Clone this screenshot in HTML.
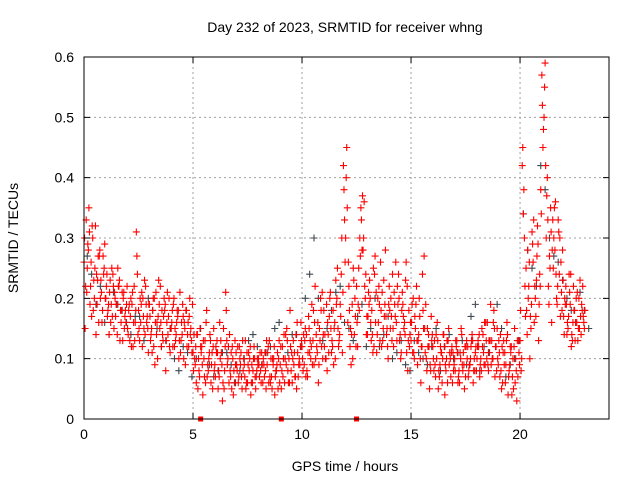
<!DOCTYPE html>
<html><head><meta charset="utf-8"><style>
html,body{margin:0;padding:0;background:#fff;}
svg{display:block;font-family:"Liberation Sans",sans-serif;}
</style></head><body>
<svg id="chart" width="640" height="480">
<text x="345" y="32" text-anchor="middle" font-size="14">Day 232 of 2023, SRMTID for receiver whng</text>
<text x="345" y="471" text-anchor="middle" font-size="14">GPS time / hours</text>
<text transform="translate(18,238) rotate(-90)" text-anchor="middle" font-size="14">SRMTID / TECUs</text>
<g id="grid"></g><g id="marks"></g><g id="axes"></g>
</svg>
<script>
const xTicks=[0,5,10,15,20];
const yTicks=[0,0.1,0.2,0.3,0.4,0.5,0.6];
const yTickLabels=["0","0.1","0.2","0.3","0.4","0.5","0.6"];
const serStartA=0.0, serStartB=0.05, serStartC=0.025, serStartD=0.075, serStep=0.1;
const serA=[.26,.33,.28,.22,.30,.25,.19,.27,.21,.24,.20,.18,.23,.17,.21,.19,.22,.16,.20,.18,.15,.13,.19,.22,.31,.18,.16,.20,.14,.17,.19,.15,.12,.21,.17,.22,.14,.18,.16,.20,.15,.19,.13,.17,.21,.14,.16,.18,.12,.15,.11,.09,.14,.07,.12,.10,.16,.08,.13,.05,.09,.13,.07,.11,.15,.21,.10,.08,.12,.06,.09,.07,.11,.08,.13,.06,.10,.09,.12,.07,.10,.08,.06,.11,.09,.13,.07,.10,.08,.05,.09,.12,.06,.15,.10,.08,.13,.07,.11,.09,.12,.09,.14,.17,.10,.13,.22,.11,.15,.12,.18,.10,.14,.21,.12,.16,.20,.13,.24,.42,.30,.16,.12,.19,.14,.22,.25,.35,.28,.20,.14,.23,.18,.12,.21,.16,.26,.13,.19,.15,.22,.17,.12,.26,.19,.14,.21,.16,.11,.18,.13,.20,.15,.09,.17,.12,.27,.10,.14,.08,.12,.09,.16,.07,.11,.14,.08,.13,.10,.06,.10,.13,.08,.15,.11,.07,.12,.09,.14,.10,.08,.12,.10,.14,.09,.16,.11,.13,.18,.12,.09,.14,.06,.11,.16,.08,.12,.05,.10,.07,.13,.42,.30,.18,.22,.15,.26,.20,.32,.24,.57,.50,.30,.22,.35,.33,.28,.19,.24,.21,.17,.22,.15,.19,.13,.18,.16,.20,.14,.17];
const serB=[.15,.25,.31,.17,.23,.14,.27,.20,.18,.29,.24,.14,.19,.22,.17,.25,.13,.21,.15,.19,.18,.20,.12,.16,.24,.13,.21,.15,.19,.11,.13,.18,.09,.16,.19,.12,.17,.08,.14,.11,.18,.12,.16,.10,.13,.17,.09,.14,.20,.11,.14,.06,.10,.12,.04,.13,.07,.11,.09,.15,.12,.05,.10,.03,.08,.13,.06,.11,.04,.09,.12,.10,.05,.09,.06,.11,.04,.08,.07,.10,.07,.11,.09,.05,.12,.06,.10,.04,.09,.13,.05,.10,.14,.08,.18,.06,.11,.05,.09,.16,.08,.15,.07,.11,.19,.09,.14,.06,.20,.10,.14,.08,.17,.11,.09,.23,.15,.19,.11,.33,.45,.22,.09,.25,.17,.12,.30,.28,.36,.14,.21,.16,.11,.27,.14,.19,.12,.23,.17,.10,.15,.24,.19,.13,.20,.11,.17,.23,.08,.14,.19,.10,.22,.14,.06,.18,.11,.15,.05,.13,.08,.14,.05,.12,.10,.04,.13,.09,.11,.08,.13,.06,.11,.09,.05,.13,.08,.12,.06,.11,.12,.07,.15,.09,.13,.08,.19,.10,.07,.15,.11,.05,.13,.09,.04,.12,.07,.15,.03,.11,.08,.34,.17,.28,.10,.31,.16,.23,.13,.38,.45,.59,.40,.27,.16,.30,.24,.33,.17,.28,.20,.14,.24,.12,.22,.16,.13,.23,.18,.15];
const serC=[.30,.21,.35,.26,.18,.32,.23,.28,.16,.25,.22,.19,.16,.24,.20,.14,.23,.18,.21,.16,.14,.17,.21,.13,.27,.15,.19,.17,.22,.15,.17,.11,.20,.14,.23,.16,.13,.19,.21,.12,.16,.20,.14,.18,.11,.19,.15,.12,.17,.13,.08,.12,.05,.15,.09,.07,.18,.10,.06,.12,.07,.11,.16,.09,.05,.18,.12,.07,.10,.13,.08,.12,.07,.10,.05,.09,.12,.06,.10,.08,.09,.06,.10,.08,.11,.07,.05,.12,.08,.10,.12,.07,.10,.13,.06,.11,.09,.14,.07,.12,.10,.13,.08,.15,.12,.18,.10,.16,.13,.21,.12,.19,.11,.15,.18,.10,.25,.14,.30,.38,.40,.26,.15,.10,.20,.16,.18,.33,.30,.24,.17,.20,.14,.24,.11,.22,.18,.15,.28,.12,.18,.13,.21,.16,.24,.10,.19,.14,.22,.12,.16,.11,.19,.13,.10,.24,.15,.08,.12,.17,.10,.07,.13,.09,.06,.12,.10,.15,.07,.11,.08,.11,.06,.14,.09,.12,.07,.10,.13,.08,.10,.14,.08,.11,.16,.09,.13,.10,.15,.08,.13,.08,.11,.06,.14,.09,.04,.12,.08,.13,.18,.45,.22,.14,.26,.19,.33,.17,.29,.22,.52,.55,.37,.19,.31,.25,.36,.22,.30,.18,.14,.19,.17,.24,.16,.13,.21,.15,.19,.16];
const serD=[.22,.29,.19,.32,.20,.24,.16,.23,.27,.20,.17,.21,.25,.15,.19,.22,.18,.13,.17,.22,.19,.12,.16,.18,.14,.20,.12,.23,.16,.19,.14,.20,.16,.10,.15,.18,.20,.13,.17,.15,.12,.15,.18,.13,.16,.10,.18,.16,.14,.19,.10,.14,.08,.11,.13,.06,.09,.14,.11,.08,.11,.08,.13,.06,.12,.09,.14,.05,.08,.11,.06,.09,.13,.07,.11,.08,.06,.10,.05,.09,.11,.09,.07,.13,.06,.10,.09,.07,.11,.06,.08,.14,.09,.06,.12,.10,.07,.16,.10,.13,.14,.07,.11,.13,.09,.16,.12,.09,.18,.14,.10,.16,.20,.13,.15,.19,.12,.17,.21,.26,.35,.18,.14,.23,.12,.19,.27,.37,.22,.17,.19,.13,.25,.16,.20,.13,.21,.17,.14,.19,.20,.15,.17,.22,.13,.18,.15,.26,.13,.16,.11,.17,.13,.20,.12,.15,.19,.12,.09,.14,.13,.10,.08,.11,.14,.09,.06,.11,.12,.09,.12,.07,.10,.08,.12,.10,.09,.13,.08,.12,.13,.09,.12,.16,.10,.13,.09,.16,.12,.10,.07,.12,.09,.13,.07,.11,.10,.06,.13,.09,.10,.38,.25,.20,.17,.29,.22,.27,.19,.34,.48,.42,.33,.25,.28,.35,.20,.31,.26,.23,.19,.16,.21,.14,.18,.20,.15,.17,.22,.18];
const serGStart=0.15, serG2Start=0.35, serGStep=0.4;
const serG=[.27,.19,.16,.21,.18,.14,.17,.20,.15,.13,.10,.12,.07,.15,.09,.08,.11,.06,.10,.14,.09,.12,.16,.11,.14,.20,.30,.13,.18,.22,.15,.17,.12,.20,.14,.10,.13,.08,.11,.09,.15,.12,.10,.13,.17,.08,.11,.19,.07,.10,.34,.25,.42,.30,.26,.20,.16,.18];
const serG2=[.24,.22,.14,.19,.16,.17,.13,.18,.12,.15,.08,.11,.10,.13,.07,.11,.09,.08,.13,.12,.11,.15,.10,.14,.12,.24,.20,.15,.21,.16,.13,.19,.15,.12,.17,.11,.09,.13,.10,.12,.08,.14,.11,.09,.19,.12,.10,.15,.09,.13,.28,.22,.38,.27,.23,.18,.21,.15];
const gapTimes=[5.35,9.05,12.5];

const X0=84,X1=609,Y0=419,Y1=57,XMAX=24.08,YMAX=0.6;
const sx=t=>X0+(X1-X0)*t/XMAX;
const sy=v=>Y0-(Y0-Y1)*v/YMAX;
const NS="http://www.w3.org/2000/svg";
function mk(tag,attrs,parent){const e=document.createElementNS(NS,tag);for(const k in attrs)e.setAttribute(k,attrs[k]);parent.appendChild(e);return e;}
const grid=document.getElementById('grid'),marks=document.getElementById('marks'),axes=document.getElementById('axes');
xTicks.forEach(t=>{
  if(t>0){const g=mk('line',{x1:sx(t),x2:sx(t),y1:Y0,y2:Y1,stroke:'#a0a0a0','stroke-dasharray':'2,3'},grid);
  
  }
  const tk=mk('path',{d:`M${sx(t)},${Y0}v-6M${sx(t)},${Y1}v6`,stroke:'#000'},axes);
  
  
  const l=mk('text',{x:sx(t),y:Y0+20,'text-anchor':'middle','font-size':14},axes);l.textContent=t;
  
  
});
yTicks.forEach((v,i)=>{
  if(v>0&&v<YMAX){const g=mk('line',{x1:X0,x2:X1,y1:sy(v),y2:sy(v),stroke:'#a0a0a0','stroke-dasharray':'2,3'},grid);
  
  }
  const tk=mk('path',{d:`M${X0},${sy(v)}h6M${X1},${sy(v)}h-6`,stroke:'#000'},axes);
  
  
  const l=mk('text',{x:X0-10,y:sy(v)+5,'text-anchor':'end','font-size':14},axes);l.textContent=yTickLabels[i];
  
  
});
const fr=mk('rect',{x:X0,y:Y1,width:X1-X0,height:Y0-Y1,fill:'none',stroke:'#000'},axes);


function plus(t,v,color,name){
  const x=sx(t),y=sy(v);
  const p=mk('path',{d:`M${x-3.5},${y}h7M${x},${y-3.5}v7`,stroke:color,'stroke-width':1.1,fill:'none'},marks);
  
  
}
serG.forEach((v,i)=>plus(serGStart+i*serGStep,v,'#404850','point-grey'));
serG2.forEach((v,i)=>plus(serG2Start+i*serGStep,v,'#404850','point-grey'));
serA.forEach((v,i)=>plus(serStartA+i*serStep,v,'#ff0000','point-red'));
serB.forEach((v,i)=>plus(serStartB+i*serStep,v,'#ff0000','point-red'));
serC.forEach((v,i)=>plus(serStartC+i*serStep,v,'#ff0000','point-red'));
serD.forEach((v,i)=>plus(serStartD+i*serStep,v,'#ff0000','point-red'));
gapTimes.forEach(t=>{
  const r=mk('rect',{x:sx(t)-2.5,y:Y0-2.5,width:5,height:5,fill:'#ff0000'},marks);
  
  
});
</script>
</body></html>
